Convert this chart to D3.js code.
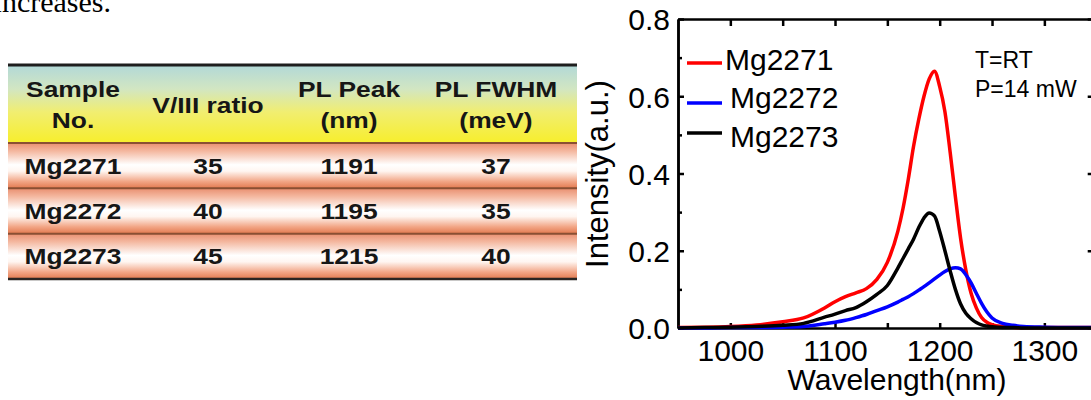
<!DOCTYPE html>
<html>
<head>
<meta charset="utf-8">
<script src="https://cdn.jsdelivr.net/npm/d3@7"></script>
<style>
  html, body { margin: 0; padding: 0; background: #ffffff; }
  svg { display: block; }
</style>
</head>
<body>
<svg id="fig" width="1091" height="400"></svg>
<script>
// ---- Table data ----
const tableHeaders = [["Sample", "No."], ["V/III ratio"], ["PL Peak", "(nm)"], ["PL FWHM", "(meV)"]];
const samples = ["Mg2271", "Mg2272", "Mg2273"];
const ratios = [35, 40, 45];
const plPeaks = [1191, 1195, 1215];
const plFwhm = [37, 35, 40];

// ---- PL spectra ----
const wavelengths = [950, 975, 1000, 1025, 1050, 1070, 1090, 1100, 1110, 1120, 1130, 1140, 1150,
  1160, 1165, 1170, 1175, 1180, 1185, 1190, 1195, 1200, 1205, 1210, 1215, 1220, 1225, 1230,
  1235, 1240, 1245, 1250, 1260, 1270, 1280, 1300, 1325, 1350];
const mg2271 = [0.001, 0.002, 0.004, 0.008, 0.016, 0.026, 0.052, 0.068, 0.081, 0.091, 0.102, 0.126, 0.170,
  0.250, 0.310, 0.385, 0.470, 0.540, 0.600, 0.645, 0.665, 0.625, 0.560, 0.455, 0.340, 0.232, 0.150, 0.090,
  0.052, 0.027, 0.015, 0.009, 0.004, 0.002, 0.001, 0.001, 0.001, 0.001];
const mg2272 = [0.000, 0.000, 0.001, 0.001, 0.002, 0.004, 0.011, 0.015, 0.020, 0.027, 0.035, 0.045, 0.055,
  0.067, 0.074, 0.081, 0.089, 0.098, 0.107, 0.117, 0.127, 0.137, 0.146, 0.153, 0.156, 0.153, 0.138, 0.117,
  0.090, 0.064, 0.042, 0.026, 0.012, 0.007, 0.004, 0.002, 0.001, 0.001];
const mg2273 = [0.000, 0.001, 0.002, 0.004, 0.007, 0.012, 0.028, 0.036, 0.045, 0.053, 0.068, 0.087, 0.110,
  0.155, 0.180, 0.205, 0.230, 0.260, 0.285, 0.298, 0.290, 0.250, 0.200, 0.148, 0.100, 0.062, 0.038, 0.024,
  0.014, 0.008, 0.005, 0.003, 0.001, 0.001, 0.000, 0.000, 0.000, 0.000];
const seriesNames = ["Mg2271", "Mg2272", "Mg2273"];
const seriesColors = ["#ff0000", "#0000ff", "#000000"];
const yMajorTicks = [0, 0.2, 0.4, 0.6, 0.8];
const yMinorTicks = [0.1, 0.3, 0.5, 0.7];
const xLabelTicks = [1000, 1100, 1200, 1300];
const xAllTicks = [1000, 1050, 1100, 1150, 1200, 1250, 1300];
const notes = ["T=RT", "P=14 mW"];

const svg = d3.select("#fig");
const defs = svg.append("defs");

// ---- Running text fragment at the top left ----
svg.append("text")
  .attr("x", 111).attr("y", 12)
  .attr("text-anchor", "end")
  .attr("font-family", "'Liberation Serif', 'Times New Roman', serif")
  .attr("font-size", 30)
  .attr("fill", "#000")
  .text("increases.");

// ---- Table ----
const tbl = { left: 8, right: 577, top: 66, headBottom: 143, bottom: 279 };
const colCenters = [73, 208, 349, 496];

const headGrad = defs.append("linearGradient").attr("id", "headGrad")
  .attr("x1", 0).attr("y1", 0).attr("x2", 0).attr("y2", 1);
[["0%", "#b3d9d7"], ["30%", "#d2e6c2"], ["60%", "#f1ee70"], ["100%", "#f7ee2c"]]
  .forEach(([o, c]) => headGrad.append("stop").attr("offset", o).attr("stop-color", c));

const rowGrad = defs.append("linearGradient").attr("id", "rowGrad")
  .attr("x1", 0).attr("y1", 0).attr("x2", 0).attr("y2", 1);
[["0%", "#e98f70"], ["18%", "#f4b8a0"], ["48%", "#ffffff"], ["62%", "#fff6f1"], ["85%", "#f2a585"], ["100%", "#e2794f"]]
  .forEach(([o, c]) => rowGrad.append("stop").attr("offset", o).attr("stop-color", c));

const rowBand = d3.scaleBand().domain(samples).range([tbl.headBottom, tbl.bottom]);

svg.append("rect")
  .attr("x", tbl.left).attr("y", tbl.top)
  .attr("width", tbl.right - tbl.left).attr("height", tbl.headBottom - tbl.top)
  .attr("fill", "url(#headGrad)");

svg.selectAll("rect.row").data(samples).join("rect")
  .attr("class", "row")
  .attr("x", tbl.left).attr("y", d => rowBand(d))
  .attr("width", tbl.right - tbl.left).attr("height", rowBand.bandwidth())
  .attr("fill", "url(#rowGrad)");

// separators
svg.selectAll("line.sep").data(samples).join("line")
  .attr("class", "sep")
  .attr("x1", tbl.left).attr("x2", tbl.right)
  .attr("y1", d => rowBand(d)).attr("y2", d => rowBand(d))
  .attr("stroke", "#8a4f33").attr("stroke-width", 2);
svg.append("line").attr("x1", tbl.left).attr("x2", tbl.right)
  .attr("y1", tbl.top - 1).attr("y2", tbl.top - 1)
  .attr("stroke", "#1e1e1e").attr("stroke-width", 3);
svg.append("line").attr("x1", tbl.left).attr("x2", tbl.right)
  .attr("y1", tbl.bottom).attr("y2", tbl.bottom)
  .attr("stroke", "#2a2522").attr("stroke-width", 2.5);

function cellText(x, y, str) {
  svg.append("text")
    .attr("transform", `translate(${x},${y}) scale(1.2,1)`)
    .attr("text-anchor", "middle")
    .attr("font-family", "'Liberation Sans', Arial, sans-serif")
    .attr("font-weight", "bold")
    .attr("font-size", 22)
    .attr("fill", "#161616")
    .text(str);
}

tableHeaders.forEach((lines, i) => {
  if (lines.length === 2) {
    cellText(colCenters[i], 97, lines[0]);
    cellText(colCenters[i], 128, lines[1]);
  } else {
    cellText(colCenters[i], 113, lines[0]);
  }
});

samples.forEach((s, i) => {
  const base = rowBand(s) + rowBand.bandwidth() / 2 + 8;
  [s, ratios[i], plPeaks[i], plFwhm[i]].forEach((v, j) => cellText(colCenters[j], base, String(v)));
});

// ---- PL chart ----
const x = d3.scaleLinear().domain([950, 1350]).range([678, 1096.7]);
const y = d3.scaleLinear().domain([0, 0.8]).range([328, 19]);
const font = "'Liberation Sans', Arial, sans-serif";

const chart = svg.append("g");

function styleAxis(g) {
  g.select(".domain").attr("stroke", "#000").attr("stroke-width", 2.5);
  g.selectAll(".tick line").attr("stroke", "#000").attr("stroke-width", 2.5);
  g.selectAll(".tick text").attr("font-family", font).attr("font-size", 30).attr("fill", "#000");
}

// left axis with labels (ticks inward)
chart.append("g").attr("transform", `translate(${x.range()[0]},0)`)
  .call(d3.axisLeft(y).tickValues(yMajorTicks).tickFormat(d3.format(".1f"))
    .tickSize(-6).tickSizeOuter(0).tickPadding(8))
  .call(styleAxis)
  .call(g => g.selectAll(".tick text").attr("dy", "0.36em"));
chart.append("g").attr("transform", `translate(${x.range()[0]},0)`)
  .call(d3.axisLeft(y).tickValues(yMinorTicks).tickFormat("").tickSize(-4).tickSizeOuter(0))
  .call(styleAxis);

// right axis
chart.append("g").attr("transform", `translate(${x.range()[1]},0)`)
  .call(d3.axisRight(y).tickValues(yMajorTicks).tickFormat("").tickSize(-9).tickSizeOuter(0))
  .call(styleAxis);
chart.append("g").attr("transform", `translate(${x.range()[1]},0)`)
  .call(d3.axisRight(y).tickValues(yMinorTicks).tickFormat("").tickSize(-5).tickSizeOuter(0))
  .call(styleAxis);

// top axis
chart.append("g").attr("transform", `translate(0,${y.range()[1]})`)
  .call(d3.axisTop(x).tickValues(xAllTicks).tickFormat("").tickSize(-7).tickSizeOuter(0))
  .call(styleAxis);

// bottom axis
chart.append("g").attr("transform", `translate(0,${y.range()[0]})`)
  .call(d3.axisBottom(x).tickValues(xAllTicks)
    .tickFormat(d => xLabelTicks.includes(d) ? String(d) : "")
    .tickSize(-5).tickSizeOuter(0).tickPadding(12))
  .call(styleAxis);

// spectra
const points = s => wavelengths.map((w, i) => [w, s[i]]);
const line = d3.line().x(d => x(d[0])).y(d => y(d[1])).curve(d3.curveMonotoneX);
const spectra = [mg2271, mg2272, mg2273];
chart.selectAll("path.spec").data(spectra).join("path")
  .attr("class", "spec")
  .attr("d", d => line(points(d)))
  .attr("fill", "none")
  .attr("stroke", (d, i) => seriesColors[i])
  .attr("stroke-width", 3.5)
  .attr("stroke-linejoin", "round");

// legend
const legLineY = [63, 103, 133];
const legTextX = [725, 730, 730];
const legTextY = [70, 108, 147];
const legend = chart.append("g");
seriesNames.forEach((name, i) => {
  legend.append("line")
    .attr("x1", 687).attr("x2", 722)
    .attr("y1", legLineY[i]).attr("y2", legLineY[i])
    .attr("stroke", seriesColors[i]).attr("stroke-width", 3.5);
  legend.append("text")
    .attr("x", legTextX[i]).attr("y", legTextY[i])
    .attr("font-family", font).attr("font-size", 30).attr("fill", "#000")
    .text(name);
});

// measurement conditions
notes.forEach((t, i) => {
  chart.append("text")
    .attr("x", 975).attr("y", 68 + i * 29)
    .attr("font-family", font).attr("font-size", 23).attr("fill", "#000")
    .text(t);
});

// axis titles
chart.append("text")
  .attr("transform", "translate(608,174) rotate(-90)")
  .attr("text-anchor", "middle")
  .attr("font-family", font).attr("font-size", 31).attr("fill", "#000")
  .text("Intensity(a.u.)");
chart.append("text")
  .attr("x", 897).attr("y", 390)
  .attr("text-anchor", "middle")
  .attr("font-family", font).attr("font-size", 30).attr("fill", "#000")
  .text("Wavelength(nm)");
</script>
</body>
</html>
